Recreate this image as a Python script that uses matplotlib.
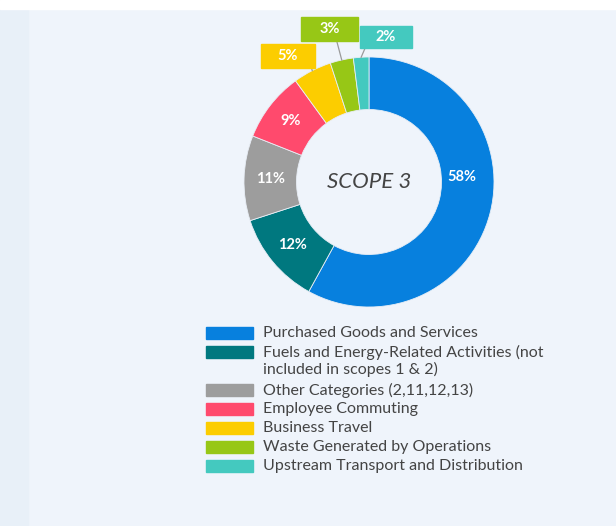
import matplotlib.pyplot as plt
from matplotlib.patches import Rectangle
import numpy as np

plt.rcParams['font.family'] = ['Lato', 'DejaVu Sans']

categories = ['Purchased Goods and Services',
              'Fuels and Energy-Related Activities (not\nincluded in scopes 1 & 2)',
              'Other Categories (2,11,12,13)',
              'Employee Commuting',
              'Business Travel',
              'Waste Generated by Operations',
              'Upstream Transport and Distribution']
shares = [58, 12, 11, 9, 5, 3, 2]
colors = ['#0780de', '#00787f', '#9d9d9d', '#ff4a6d', '#fccd00', '#97c716', '#44c9bf']
center_text = 'SCOPE 3'

W, H = 616, 526
fig = plt.figure(figsize=(W / 100, H / 100), dpi=100, facecolor='#eff4fb')
# left strip and white top band
fig.patches.append(Rectangle((0, 0), 28 / W, 1, transform=fig.transFigure,
                             color='#e8f0f8', zorder=0))
fig.patches.append(Rectangle((0, 1 - 9 / H), 1, 9 / H, transform=fig.transFigure,
                             color='white', zorder=0))

cx, cy, r = 369, 182, 125
ax = fig.add_axes([(cx - r) / W, (H - cy - r) / H, 2 * r / W, 2 * r / H])

hole = 0.58
wedges, _ = ax.pie(shares, colors=colors, startangle=90, counterclock=False,
                   radius=1, wedgeprops=dict(width=1 - hole, edgecolor='#e8eef6', linewidth=0.6))
ax.set_xlim(-1, 1)
ax.set_ylim(-1, 1)
ax.set_aspect('equal')
ax.axis('off')

ax.text(0, 0, center_text, ha='center', va='center', fontsize=16,
        style='italic', color='#444444')

# labels inside the ring for the big slices, boxes for the small ones
for i, w in enumerate(wedges):
    mid = np.deg2rad((w.theta1 + w.theta2) / 2)
    lbl = f'{shares[i]}%'
    if shares[i] >= 9:
        rr = 0.79
        if i == 0:
            mid, rr = np.deg2rad(3), 0.74
        ax.text(rr * np.cos(mid), rr * np.sin(mid), lbl, ha='center', va='center',
                color='white', fontsize=10.5, fontweight='bold')

# box layout for small slices: (center x, center y, width, height, line end dx) in px
boxes = {4: (288, 55.5, 54, 24, -1), 5: (329.5, 29, 57, 24, -5), 6: (386, 37, 52, 22, 4)}
for i, (bx, by, bw, bh, ldx) in boxes.items():
    w = wedges[i]
    mid = np.deg2rad((w.theta1 + w.theta2) / 2)
    px, py = np.cos(mid), np.sin(mid)
    x0 = (bx - cx) / r
    y0 = (cy - by) / r
    ax.add_patch(Rectangle((x0 - bw / 2 / r, y0 - bh / 2 / r), bw / r, bh / r,
                           color=colors[i], clip_on=False, zorder=3))
    ax.plot([px, px + ldx / r], [py, y0 - bh / 2 / r], color='#9a9a9a', lw=0.9,
            clip_on=False, zorder=2)
    ax.text(x0, y0, f'{shares[i]}%', ha='center', va='center', color='white',
            fontsize=10.5, fontweight='bold', zorder=4, clip_on=False)

# legend drawn by hand so the swatch sits on the first line of wrapped labels
row_y = 333
for c, lab in zip(colors, categories):
    fig.patches.append(Rectangle((206 / W, 1 - (row_y + 6) / H), 47 / W, 12 / H,
                                 transform=fig.transFigure, color=c))
    fig.text(263 / W, 1 - (row_y - 7) / H, lab, ha='left', va='top', fontsize=11.5,
             color='#444444', linespacing=1.18)
    row_y += 19 * (lab.count('\n') + 1)

fig.savefig('out.png', dpi=100, facecolor=fig.get_facecolor())
